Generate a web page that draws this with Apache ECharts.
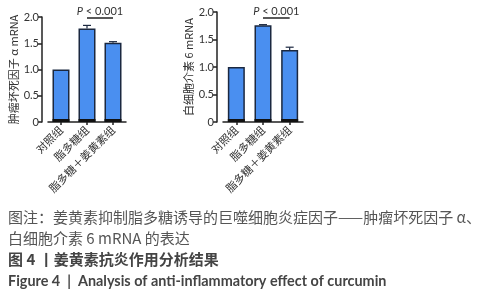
<!DOCTYPE html>
<html>
<head>
<meta charset="utf-8">
<script src="https://cdn.jsdelivr.net/npm/echarts@6/dist/echarts.min.js"></script>
<style>
  html, body { margin: 0; padding: 0; background: #fff; }
  #chart { width: 494px; height: 300px; }
</style>
</head>
<body>
<div id="chart"></div>
<script>
const groups = ["对照组", "脂多糖组", "脂多糖＋姜黄素组"];
const tnfMean = [1.0, 1.78, 1.51];
const tnfErr = [0, 0.06, 0.02];
const il6Mean = [1.0, 1.76, 1.31];
const il6Err = [0, 0.01, 0.05];

const barColor = "#4a8ff0";
const edgeColor = "#1b2840";
const textFont = "Lato, 'Noto Sans CJK SC', sans-serif";

function yAxisOf(gridIndex, name) {
  return {
    type: "value",
    gridIndex: gridIndex,
    min: 0,
    max: 2,
    interval: 0.5,
    offset: 6,
    name: name,
    nameLocation: "middle",
    nameRotate: 90,
    nameGap: 23,
    nameTextStyle: { fontSize: 11, color: "#333", fontFamily: "'Noto Sans CJK SC', sans-serif" },
    axisLine: { show: true, lineStyle: { color: "#222", width: 1.5 } },
    axisTick: { show: true, length: 4, lineStyle: { color: "#222", width: 1.5 } },
    splitLine: { show: false },
    axisLabel: {
      fontSize: 11, color: "#333", margin: 3, fontFamily: textFont,
      formatter: v => (v === 0 ? "0" : v.toFixed(1))
    }
  };
}

function xAxisOf(gridIndex) {
  return {
    type: "category",
    gridIndex: gridIndex,
    data: groups,
    axisLine: { show: true, lineStyle: { color: "#222", width: 1.5 } },
    axisTick: { show: true, alignWithLabel: true, length: 3, lineStyle: { color: "#222", width: 1.5 } },
    axisLabel: {
      rotate: 45, fontSize: 11, color: "#333", margin: 6, interval: 0,
      fontFamily: "'Noto Sans CJK SC', sans-serif"
    }
  };
}

function barsOf(idx, values) {
  return {
    type: "bar",
    xAxisIndex: idx,
    yAxisIndex: idx,
    data: values,
    barWidth: 17,
    itemStyle: { color: barColor, borderColor: edgeColor, borderWidth: 1.5 },
    silent: true
  };
}

// error bar caps + the dark strip that sits at the foot of every bar
function errorsOf(idx, values, errs) {
  return {
    type: "custom",
    xAxisIndex: idx,
    yAxisIndex: idx,
    data: values.map((v, i) => [i, v, v + errs[i]]),
    z: 3,
    renderItem: function (params, api) {
      const lo = api.coord([api.value(0), api.value(1)]);
      const hi = api.coord([api.value(0), api.value(2)]);
      const foot = api.coord([api.value(0), 0]);
      const st = { stroke: edgeColor, lineWidth: 1.2 };
      const kids = [
        { type: "rect", shape: { x: foot[0] - 8.5, y: foot[1] - 3, width: 17, height: 3 }, style: { fill: "#111" } }
      ];
      if (hi[1] < lo[1] - 0.5) {
        kids.push(
          { type: "line", shape: { x1: lo[0], y1: lo[1], x2: hi[0], y2: hi[1] }, style: st },
          { type: "line", shape: { x1: hi[0] - 4, y1: hi[1], x2: hi[0] + 4, y2: hi[1] }, style: st }
        );
      }
      return { type: "group", children: kids };
    }
  };
}

const chart = echarts.init(document.getElementById("chart"));

chart.setOption({
  animation: false,
  backgroundColor: "#fff",
  grid: [
    { left: 48, top: 17, width: 78, height: 105 },
    { left: 223, top: 12, width: 80, height: 110 }
  ],
  xAxis: [xAxisOf(0), xAxisOf(1)],
  yAxis: [yAxisOf(0, "肿瘤坏死因子 α mRNA"), yAxisOf(1, "白细胞介素 6 mRNA")],
  series: [
    barsOf(0, tnfMean),
    errorsOf(0, tnfMean, tnfErr),
    barsOf(1, il6Mean),
    errorsOf(1, il6Mean, il6Err)
  ]
});

// significance brackets between group 2 and group 3 of each panel
function bracket(idx, y) {
  const a = chart.convertToPixel({ xAxisIndex: idx }, groups[1]);
  const b = chart.convertToPixel({ xAxisIndex: idx }, groups[2]);
  return [
    { id: "bl" + idx, type: "line", shape: { x1: a, y1: y, x2: b, y2: y }, style: { stroke: "#222", lineWidth: 1.5 } },
    {
      id: "bt" + idx, type: "text", x: (a + b) / 2, y: y - 7,
      style: {
        text: "{i|P} < 0.001", font: "11px Lato", fill: "#333", align: "center", verticalAlign: "middle",
        rich: { i: { fontStyle: "italic", fontSize: 11, fontFamily: "Lato", fill: "#333" } }
      }
    }
  ];
}

const captionGrey = "#555";
const captions = [
  { id: "c1", type: "text", left: 8, top: 210, style: { text: "图注：姜黄素抑制脂多糖诱导的巨噬细胞炎症因子——肿瘤坏死因子 α、", font: "15px 'Noto Sans CJK SC'", fill: captionGrey } },
  { id: "c2", type: "text", left: 8, top: 231, style: { text: "白细胞介素 6 mRNA 的表达", font: "15px 'Noto Sans CJK SC'", fill: captionGrey } },
  { id: "c3", type: "text", left: 8, top: 252, style: { text: "图 4 丨姜黄素抗炎作用分析结果", font: "bold 15px 'Noto Sans CJK SC'", fill: "#444" } },
  { id: "c4", type: "text", left: 8, top: 274, style: { text: "Figure 4  |  Analysis of anti-inflammatory effect of curcumin", font: "bold 14.4px Lato", fill: "#444" } }
];

chart.setOption({ graphic: { elements: captions.concat(bracket(0, 18), bracket(1, 18)) } });
</script>
</body>
</html>
